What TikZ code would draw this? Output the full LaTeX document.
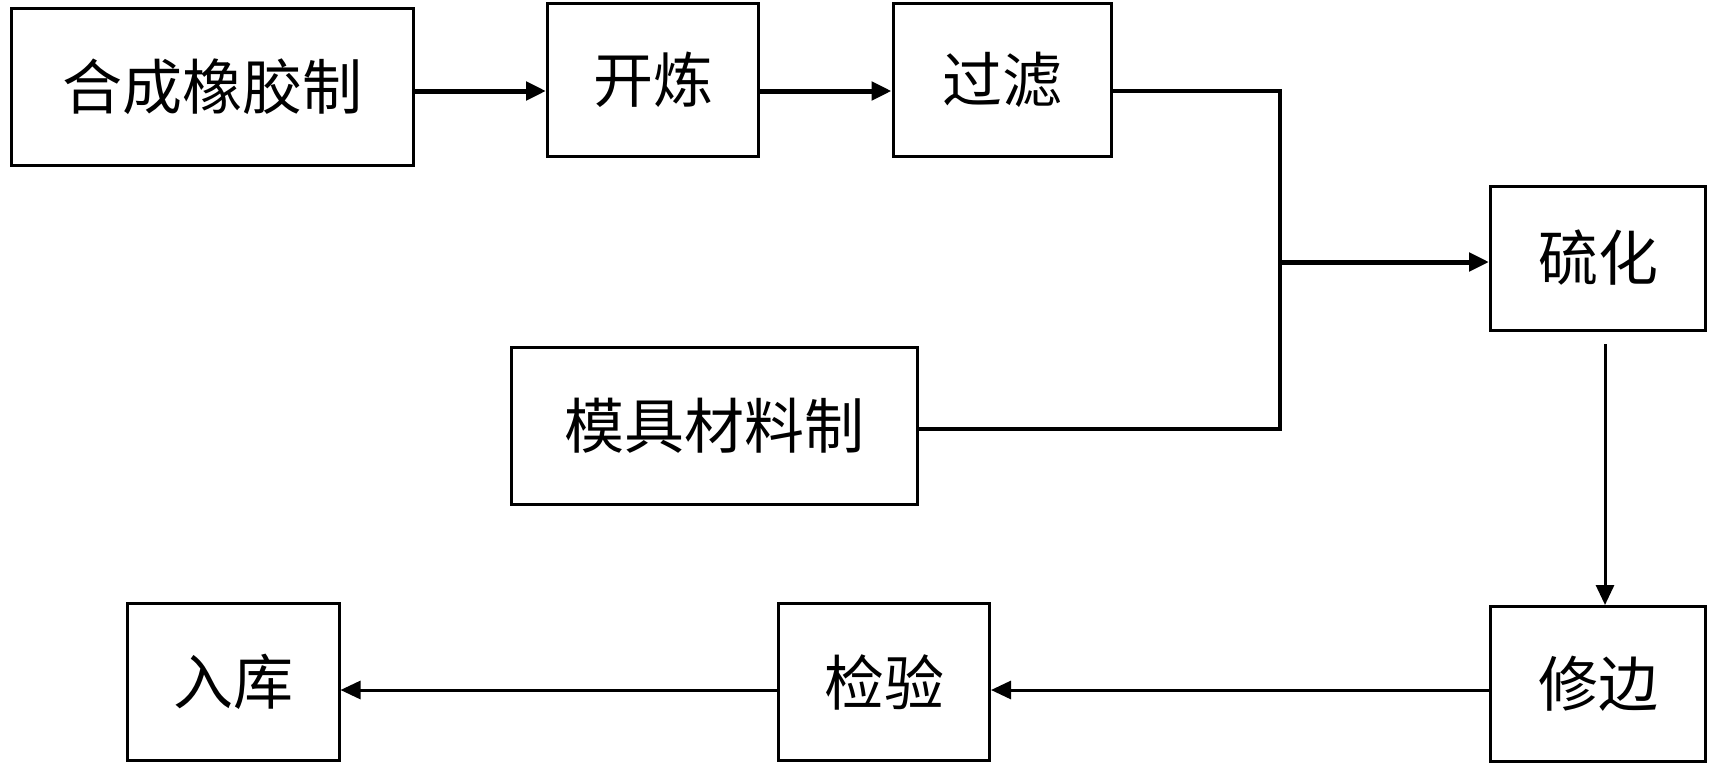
\documentclass[tikz,border=0pt]{standalone}
\usepackage{fontspec}
\newfontfamily\cjk{Noto Sans CJK SC}
\usetikzlibrary{positioning,arrows.meta}
\tikzset{
  stepbox/.style={draw=black,line width=3pt,fill=white,inner sep=0pt,align=center,font=\cjk\fontsize{60}{64}\selectfont},
  flowthick/.style={-{Triangle[length=20pt,width=18pt]},draw=black,line width=5pt},
  flowthin/.style={-{Triangle[length=20pt,width=18pt]},draw=black,line width=3pt},
  joinline/.style={draw=black,line width=3.5pt}
}
\begin{document}
\begin{tikzpicture}[x=1pt,y=-1pt]
  \fill[white] (0,0) rectangle (1712,768);
  \useasboundingbox (0,0) rectangle (1712,768);
  % process steps
  \node[stepbox,minimum width=402pt,minimum height=157pt] (hecheng) at (212,87) {合成橡胶制};
  \node[stepbox,minimum width=211pt,minimum height=153pt] (kailian) at (653,80) {开炼};
  \node[stepbox,minimum width=218pt,minimum height=153pt] (guolv) at (1002,80) {过滤};
  \node[stepbox,minimum width=215pt,minimum height=144pt] (liuhua) at (1598,258) {硫化};
  \node[stepbox,minimum width=406pt,minimum height=157pt] (muju) at (714,426) {模具材料制};
  \node[stepbox,minimum width=215pt,minimum height=155pt] (xiubian) at (1598,684) {修边};
  \node[stepbox,minimum width=211pt,minimum height=157pt] (jianyan) at (884,682) {检验};
  \node[stepbox,minimum width=212pt,minimum height=157pt] (ruku) at (233,682) {入库};
  % rows and joints for the connectors
  \coordinate (row1) at (0,91);
  \coordinate (row2) at (0,429);
  \coordinate (row3) at (0,690);
  \coordinate (junc) at (1280,262);
  \coordinate (col) at (1605,344);
  \draw[flowthick] (hecheng.east|-row1) -- (kailian.west|-row1);
  \draw[flowthick] (kailian.east|-row1) -- (guolv.west|-row1);
  \draw[joinline] (guolv.east|-row1) -| (junc|-row2) -- (muju.east|-row2);
  \draw[flowthick] (junc) -- (liuhua.west|-junc);
  \draw[flowthin] (col) -- (xiubian.north-|col);
  \draw[flowthin] (xiubian.west|-row3) -- (jianyan.east|-row3);
  \draw[flowthin] (jianyan.west|-row3) -- (ruku.east|-row3);
\end{tikzpicture}
\end{document}
